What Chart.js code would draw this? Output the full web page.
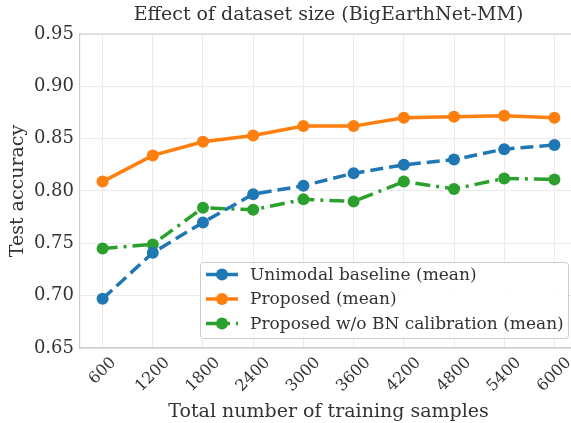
<!doctype html>
<html>
<head>
<meta charset="utf-8">
<script src="https://cdn.jsdelivr.net/npm/chart.js"></script>
<style>
  html, body { margin: 0; padding: 0; background: #fff; overflow: hidden; }
  #wrap { width: 571px; height: 423px; overflow: hidden; }
</style>
</head>
<body>
<div id="wrap"><canvas id="chart" width="577" height="423"></canvas></div>
<script>
const samples = ['600', '1200', '1800', '2400', '3000', '3600', '4200', '4800', '5400', '6000'];
const unimodal = [0.697, 0.741, 0.770, 0.797, 0.805, 0.817, 0.825, 0.830, 0.840, 0.844];
const proposed = [0.809, 0.834, 0.847, 0.853, 0.862, 0.862, 0.870, 0.871, 0.872, 0.870];
const noBN = [0.745, 0.749, 0.784, 0.782, 0.792, 0.790, 0.809, 0.802, 0.812, 0.811];
const yTicks = [0.65, 0.70, 0.75, 0.80, 0.85, 0.90, 0.95];
const titleText = 'Effect of dataset size (BigEarthNet-MM)';

const serif = "'DejaVu Serif', serif";
const ink = '#333333';

function pts(arr) { return arr.map((v, i) => ({ x: i, y: v })); }

const frame = {
  id: 'frame',
  afterDraw(chart) {
    const { ctx, chartArea: a } = chart;
    ctx.save();
    ctx.strokeStyle = '#cccccc';
    ctx.lineWidth = 1.2;
    ctx.beginPath();
    ctx.moveTo(a.left, a.top); ctx.lineTo(a.right, a.top);
    ctx.stroke();

    // title centred over the axes
    ctx.fillStyle = ink;
    ctx.font = '19px ' + serif;
    ctx.textAlign = 'center';
    ctx.textBaseline = 'middle';
    ctx.fillText(titleText, (a.left + a.right) / 2, 15);

    // x tick labels, rotated 45 and centred on the tick
    const xs = chart.scales.x;
    ctx.font = '16px ' + serif;
    samples.forEach((lab, i) => {
      const w = ctx.measureText(lab).width;
      const half = (w + 12) * 0.707 / 2;
      ctx.save();
      ctx.translate(xs.getPixelForValue(i), a.bottom + 8 + half);
      ctx.rotate(-Math.PI / 4);
      ctx.fillText(lab, 0, 0);
      ctx.restore();
    });

    // legend box
    ctx.textAlign = 'left';
    const x0 = 200, y0 = 262, w = 368, h = 76;
    ctx.fillStyle = 'rgba(255,255,255,0.85)';
    ctx.strokeStyle = '#cccccc';
    ctx.lineWidth = 1;
    ctx.beginPath();
    ctx.roundRect(x0 + 0.5, y0 + 0.5, w, h, 3);
    ctx.fill(); ctx.stroke();
    ctx.font = '17px ' + serif;
    chart.data.datasets.forEach((ds, i) => {
      const yy = y0 + 12.5 + i * 24.5;
      ctx.strokeStyle = ds.borderColor;
      ctx.lineWidth = 3.5;
      ctx.setLineDash(ds.borderDash || []);
      ctx.beginPath(); ctx.moveTo(206, yy); ctx.lineTo(238, yy); ctx.stroke();
      ctx.setLineDash([]);
      ctx.fillStyle = ds.borderColor;
      ctx.beginPath(); ctx.arc(222, yy, 6, 0, Math.PI * 2); ctx.fill();
      ctx.fillStyle = ink;
      ctx.fillText(ds.label, 250, yy + 1);
    });
    ctx.restore();
  }
};

new Chart(document.getElementById('chart'), {
  type: 'line',
  data: {
    datasets: [
      { label: 'Unimodal baseline (mean)', data: pts(unimodal), borderColor: '#1f77b4', backgroundColor: '#1f77b4', borderDash: [13, 6] },
      { label: 'Proposed (mean)', data: pts(proposed), borderColor: '#ff7f0e', backgroundColor: '#ff7f0e' },
      { label: 'Proposed w/o BN calibration (mean)', data: pts(noBN), borderColor: '#2ca02c', backgroundColor: '#2ca02c', borderDash: [15, 6, 3, 6] }
    ]
  },
  options: {
    responsive: false,
    animation: false,
    layout: { autoPadding: false, padding: { left: 7, right: 0, top: 34, bottom: 0 } },
    elements: {
      line: { borderWidth: 3.5, tension: 0 },
      point: { radius: 6, borderWidth: 0, hoverRadius: 6 }
    },
    plugins: {
      legend: { display: false },
      tooltip: { enabled: false },
      title: { display: false }
    },
    scales: {
      x: {
        type: 'linear', min: -0.45, max: 9.45,
        afterBuildTicks: s => { s.ticks = samples.map((_, i) => ({ value: i })); },
        afterFit: s => { s.height = 75; s.paddingRight = 0; s.paddingLeft = 0; },
        ticks: { display: false },
        grid: { color: '#ebebeb', lineWidth: 1, drawTicks: false },
        border: { color: '#cccccc', width: 1.2 },
        title: { display: true, text: 'Total number of training samples', color: ink, font: { family: serif, size: 19 }, padding: { top: 0, bottom: 0 } }
      },
      y: {
        min: 0.65, max: 0.95,
        afterBuildTicks: s => { s.ticks = yTicks.map(v => ({ value: v })); },
        afterFit: s => { s.width = 73; },
        ticks: {
          color: ink, font: { family: serif, size: 18 }, padding: 6,
          callback: v => v.toFixed(2)
        },
        grid: { color: '#ebebeb', lineWidth: 1, drawTicks: false },
        border: { color: '#cccccc', width: 1.2 },
        title: { display: true, text: 'Test accuracy', color: ink, font: { family: serif, size: 19 }, padding: { top: 0, bottom: 0 } }
      }
    }
  },
  plugins: [frame]
});
</script>
</body>
</html>
